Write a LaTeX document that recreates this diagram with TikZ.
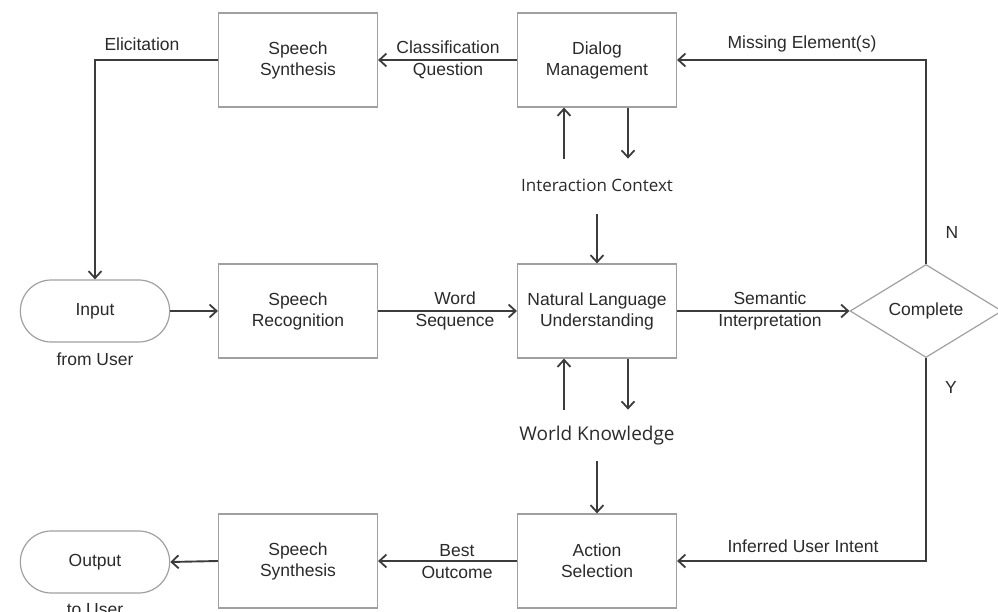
\documentclass[tikz,border=0pt]{standalone}
\usepackage{fontspec}
\setmainfont{Liberation Sans}
\newfontfamily\ctxfont{Open Sans}
\usetikzlibrary{arrows.meta,shapes.geometric,shapes.misc}
\definecolor{linegray}{HTML}{3C3C3C}
\definecolor{boxgray}{HTML}{A0A0A0}
\definecolor{txt}{HTML}{2A2A2A}
\begin{document}
\begin{tikzpicture}[x=1pt,y=-1pt,
  every node/.style={text=txt},
  box/.style={draw=boxgray, line width=1.2pt, minimum width=159pt, minimum height=94pt, align=center, font=\fontsize{17.5}{21}\selectfont},
  term/.style={draw=boxgray, line width=1.2pt, rounded rectangle, minimum width=156pt, minimum height=62pt, font=\fontsize{17.5}{21}\selectfont},
  dec/.style={draw=boxgray, line width=1.2pt, diamond, minimum width=152pt, minimum height=93pt, inner sep=0pt, font=\fontsize{17.5}{21}\selectfont},
  lbl/.style={align=center, font=\fontsize{17.5}{22}\selectfont, inner sep=0pt},
  ctx/.style={font=\ctxfont\fontsize{17}{20}\selectfont, inner sep=0pt},
  conn/.style={draw=linegray, line width=1.9pt, -{Straight Barb[length=7pt,width=13pt,line width=1.8pt]}}
]
\useasboundingbox (0,0) rectangle (998,612);
% nodes
\node[box] (ss1) at (298,60) {Speech\\Synthesis};
\node[box] (dm) at (597,60) {Dialog\\Management};
\node[term] (in) at (95,311) {Input};
\node[box] (sr) at (298,311) {Speech\\Recognition};
\node[box] (nlu) at (597,311) {Natural Language\\Understanding};
\node[dec] (cmp) at (926,311) {Complete};
\node[box] (ss2) at (298,561) {Speech\\Synthesis};
\node[box] (as) at (597,561) {Action\\Selection};
\node[term] (out) at (95,562) {Output};
% labels
\node[lbl] (lelic) at (142,44) {Elicitation};
\node[lbl] (lcq) at (448,60) {Classification\\Question};
\node[lbl] (lme) at (802,44) {Missing Element(s)};
\node[ctx] (ic) at (597,185) {Interaction Context};
\node[lbl] (ln) at (952,232) {N};
\node[lbl] (lws) at (455,311) {Word\\Sequence};
\node[lbl] (lsi) at (770,311) {Semantic\\Interpretation};
\node[lbl] (lfu) at (95,359) {from User};
\node[lbl] (ly) at (951,387) {Y};
\node[ctx, font=\ctxfont\fontsize{19}{22}\selectfont] (wk) at (597,436) {World Knowledge};
\node[lbl] (lbo) at (457,562) {Best\\Outcome};
\node[lbl] (lui) at (803,546) {Inferred User Intent};
\node[lbl] (ltu) at (95,610) {to User};
% connectors
\coordinate (elb) at (95,60);
\draw[conn] (dm.west) -- (ss1.east);
\draw[conn] (ss1.west) -- (elb) -- (in.north);
\draw[conn] (in.east) -- (sr.west);
\draw[conn] (sr.east) -- (nlu.west);
\draw[conn] (nlu.east) -- (cmp.west);
\draw[conn] (cmp.north) |- (dm.east);
\draw[conn] (cmp.south) |- (as.east);
\draw[conn] (as.west) -- (ss2.east);
\draw[conn] (ss2.west) -- (out.east);
% context arrows
\draw[conn] ([xshift=-33pt,yshift=-51pt]dm.south) -- ([xshift=-33pt]dm.south);
\draw[conn] ([xshift=31pt]dm.south) -- ([xshift=31pt,yshift=-51pt]dm.south);
\draw[conn] ([yshift=49pt]nlu.north) -- (nlu.north);
\draw[conn] ([xshift=-33pt,yshift=-51pt]nlu.south) -- ([xshift=-33pt]nlu.south);
\draw[conn] ([xshift=31pt]nlu.south) -- ([xshift=31pt,yshift=-51pt]nlu.south);
\draw[conn] ([yshift=52pt]as.north) -- (as.north);
\end{tikzpicture}
\end{document}
